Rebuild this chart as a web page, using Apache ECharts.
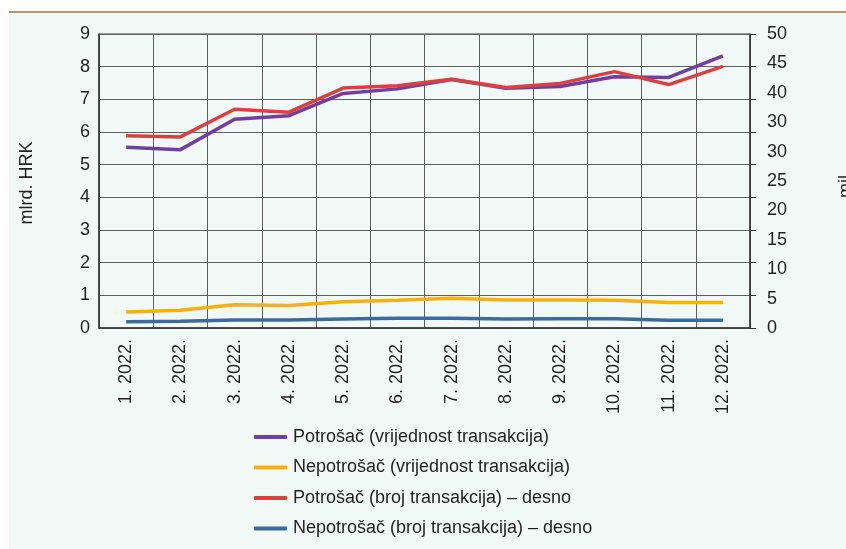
<!DOCTYPE html>
<html>
<head>
<meta charset="utf-8">
<script src="https://cdn.jsdelivr.net/npm/echarts@6/dist/echarts.min.js"></script>
<style>
html,body{margin:0;padding:0;background:#ffffff;}
#c{width:846px;height:549px;}
</style>
</head>
<body>
<div id="c"></div>
<script>
var categories = ['1. 2022.','2. 2022.','3. 2022.','4. 2022.','5. 2022.','6. 2022.','7. 2022.','8. 2022.','9. 2022.','10. 2022.','11. 2022.','12. 2022.'];
var potrosacVrijednost = [5.53,5.46,6.39,6.50,7.18,7.32,7.61,7.34,7.39,7.69,7.67,8.33];
var nepotrosacVrijednost = [0.49,0.54,0.71,0.69,0.80,0.85,0.91,0.86,0.86,0.85,0.78,0.78];
var potrosacBroj = [32.7,32.5,37.2,36.7,40.8,41.2,42.3,40.9,41.6,43.6,41.4,44.5];
var nepotrosacBroj = [1.08,1.13,1.36,1.36,1.53,1.64,1.64,1.53,1.59,1.59,1.30,1.30];
var leftTickLabels = ['0','1','2','3','4','5','6','7','8','9'];
var rightTickLabels = ['0','5','10','15','20','25','30','30','40','45','50'];
var seriesNames = ['Potrošač (vrijednost transakcija)','Nepotrošač (vrijednost transakcija)','Potrošač (broj transakcija) – desno','Nepotrošač (broj transakcija) – desno'];

var FONT = "'Liberation Sans', Arial, sans-serif";
var TXT = '#231f20';
var GRID = '#5f5f5f';
var chart = echarts.init(document.getElementById('c'), null, {renderer:'canvas'});
var option = {
  backgroundColor: '#ffffff',
  animation: false,
  graphic: [
    {type:'rect', left:9, top:13, shape:{width:837, height:536}, style:{fill:'#f0f9f6'}, z:-10},
    {type:'rect', left:9, top:11, shape:{width:837, height:2}, style:{fill:'#b59a64'}, z:-9},
    {type:'text', x:27, y:183, rotation:Math.PI/2, style:{text:'mlrd. HRK', fill:TXT, font:'18px '+FONT, align:'center', verticalAlign:'middle'}},
    {type:'text', x:846, y:184, rotation:Math.PI/2, style:{text:'mil.', fill:TXT, font:'18px '+FONT, align:'center', verticalAlign:'middle'}}
  ],
  grid: {left:99, right:96, top:34, bottom:221, containLabel:false, show:true, borderColor:'#444', borderWidth:1},
  legend: {
    orient:'vertical', left:254, top:427, height:122, padding:0, itemWidth:33, itemHeight:4, itemGap:10.5,
    icon:'roundRect',
    textStyle:{fontFamily:FONT, fontSize:18, color:TXT, lineHeight:20, padding:[0,0,0,1]},
    data: seriesNames
  },
  xAxis: {
    type:'category', data:categories, boundaryGap:true,
    axisLine:{show:true, lineStyle:{color:'#333', width:1.5}},
    axisTick:{show:false},
    splitLine:{show:true, interval:0, lineStyle:{color:GRID, width:1}},
    axisLabel:{rotate:90, interval:0, margin:11, fontFamily:FONT, fontSize:18, color:TXT}
  },
  yAxis: [
    {type:'value', min:0, max:9, interval:1, position:'left',
     axisLine:{show:true, lineStyle:{color:'#333', width:1.5}},
     axisTick:{show:false},
     splitLine:{show:true, lineStyle:{color:GRID, width:1}},
     axisLabel:{margin:9, fontFamily:FONT, fontSize:18, color:TXT, formatter:function(v){return leftTickLabels[Math.round(v)];}}
    },
    {type:'value', min:0, max:50, interval:5, position:'right',
     axisLine:{show:false}, axisTick:{show:false}, splitLine:{show:false},
     axisLabel:{margin:17, fontFamily:FONT, fontSize:18, color:TXT, formatter:function(v){return rightTickLabels[Math.round(v/5)];}}
    },
    {type:'value', min:0, max:9, interval:1, position:'right',
     axisLine:{show:true, lineStyle:{color:'#333', width:1.5}},
     axisTick:{show:true, inside:false, length:6, lineStyle:{color:'#333', width:1}},
     splitLine:{show:false}, axisLabel:{show:false}
    }
  ],
  series: [
    {name:seriesNames[0], type:'line', yAxisIndex:0, data:potrosacVrijednost, symbol:'none', lineStyle:{color:'#7040a0', width:3.5}, itemStyle:{color:'#7040a0'}, z:3},
    {name:seriesNames[1], type:'line', yAxisIndex:0, data:nepotrosacVrijednost, symbol:'none', lineStyle:{color:'#f6b10f', width:3.5}, itemStyle:{color:'#f6b10f'}, z:3},
    {name:seriesNames[2], type:'line', yAxisIndex:1, data:potrosacBroj, symbol:'none', lineStyle:{color:'#da4040', width:3.5}, itemStyle:{color:'#da4040'}, z:4},
    {name:seriesNames[3], type:'line', yAxisIndex:1, data:nepotrosacBroj, symbol:'none', lineStyle:{color:'#3b6a9c', width:3.5}, itemStyle:{color:'#3b6a9c'}, z:3}
  ]
};
chart.setOption(option);
</script>
</body>
</html>
